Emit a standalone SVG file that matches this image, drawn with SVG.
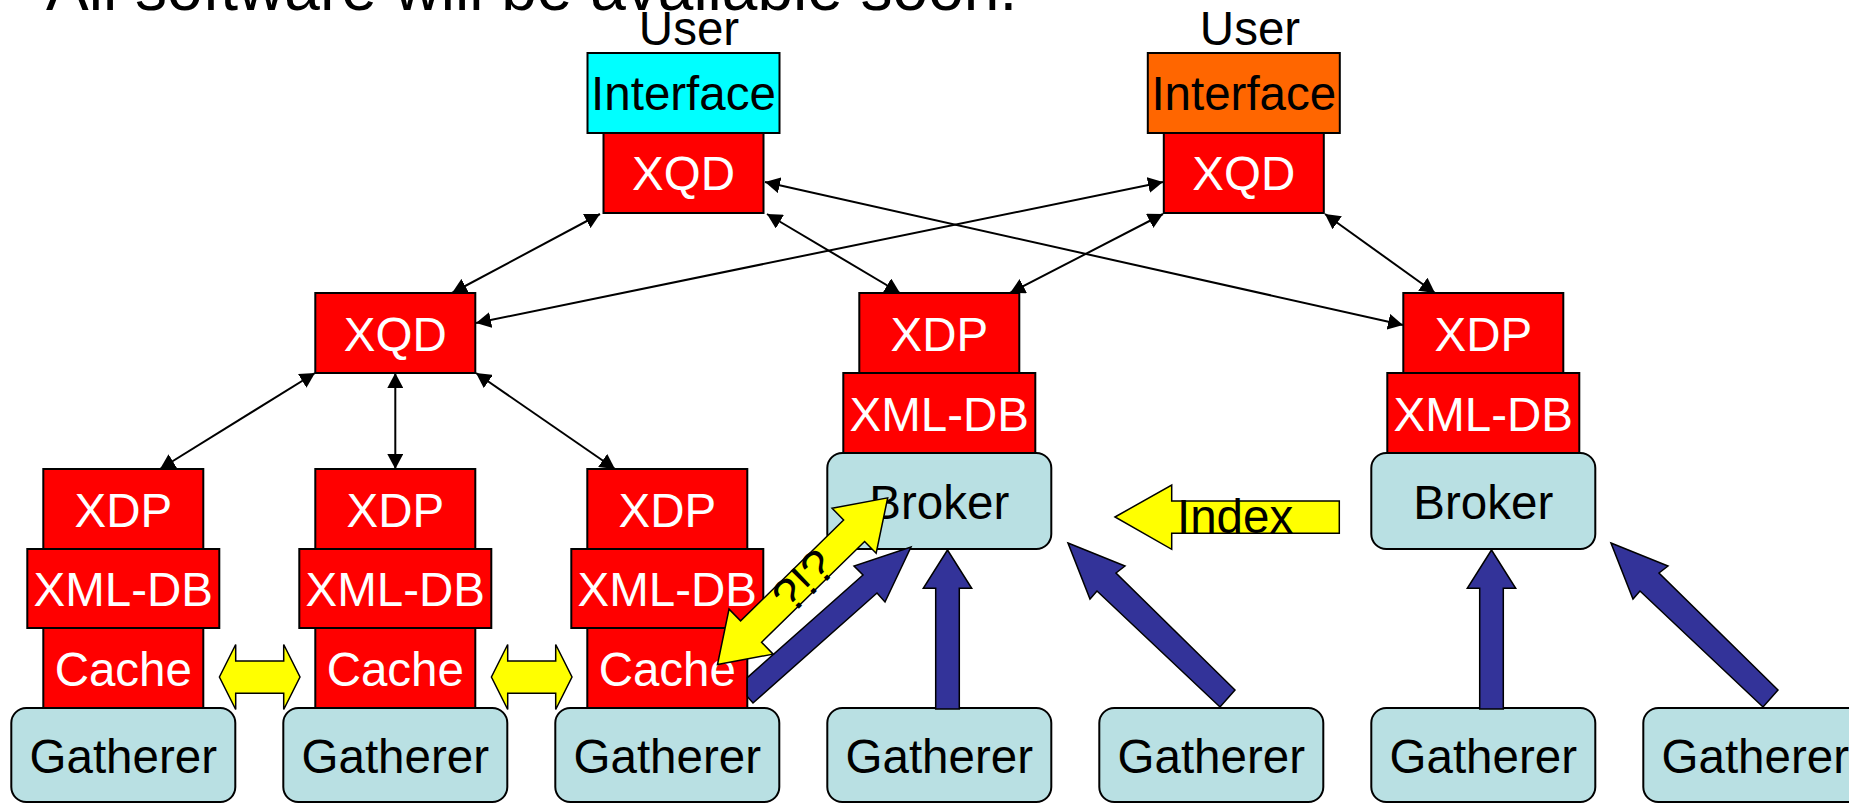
<svg xmlns="http://www.w3.org/2000/svg" width="1849" height="803" viewBox="0 0 1849 803">
  <defs>
    <style>
      text { font-family: "Liberation Sans", Arial, sans-serif; font-size: 47.5px; }
      .title { font-size: 64px; fill: #000; }
      .red { fill: #FF0000; stroke: #000; stroke-width: 2; }
      .soft { fill: #B9E0E3; stroke: #000; stroke-width: 2; }
      .w { fill: #FFFFFF; text-anchor: middle; }
      .k { fill: #000000; text-anchor: middle; }
      .link { stroke: #000; stroke-width: 2; fill: none; marker-start: url(#tip); marker-end: url(#tip); }
      .blue { fill: #333399; stroke: #000; stroke-width: 1.5; }
      .yel { fill: #FFFF00; stroke: #000; stroke-width: 1.5; }
    </style>
    <marker id="tip" viewBox="0 0 15 16" refX="15" refY="8" markerWidth="15" markerHeight="16" markerUnits="userSpaceOnUse" orient="auto-start-reverse">
      <path d="M0,0 L15,8 L0,16 z" fill="#000"/>
    </marker>
  </defs>

  <rect width="1849" height="803" fill="#FFFFFF"/>

  <text id="title" class="title" x="46" y="9.5">All software will be available soon.</text>

  <!-- user front ends -->
  <g id="user1">
    <text class="k" x="689" y="44.5">User</text>
    <rect x="587.5" y="53" width="192" height="80" fill="#00FFFF" stroke="#000" stroke-width="2"/>
    <text class="k" x="683.5" y="110">Interface</text>
  </g>
  <g id="xqd-top1">
    <rect class="red" x="603.5" y="133" width="160" height="80"/>
    <text class="w" x="683.5" y="190">XQD</text>
  </g>
  <g id="user2">
    <text class="k" x="1250" y="44.5">User</text>
    <rect x="1147.8" y="53" width="192" height="80" fill="#FF6600" stroke="#000" stroke-width="2"/>
    <text class="k" x="1243.8" y="110">Interface</text>
  </g>
  <g id="xqd-top2">
    <rect class="red" x="1163.8" y="133" width="160" height="80"/>
    <text class="w" x="1243.8" y="190">XQD</text>
  </g>

  <!-- intermediate query node -->
  <g id="xqd-mid">
    <rect class="red" x="315.3" y="293" width="160" height="80"/>
    <text class="w" x="395.3" y="350.5">XQD</text>
  </g>

  <!-- cache stacks -->
  <g id="xdp1"><rect class="red" x="43.3" y="469" width="160" height="80"/><text class="w" x="123.3" y="526.5">XDP</text></g>
  <g id="xmldb1"><rect class="red" x="27.3" y="549" width="192" height="79"/><text class="w" x="123.3" y="606">XML-DB</text></g>
  <g id="cache1"><rect class="red" x="43.3" y="628" width="160" height="80"/><text class="w" x="123.3" y="685.5">Cache</text></g>
  <g id="gatherer1"><rect class="soft" x="11.3" y="708" width="224" height="94" rx="15"/><text class="k" x="123.3" y="773">Gatherer</text></g>

  <g id="xdp2"><rect class="red" x="315.3" y="469" width="160" height="80"/><text class="w" x="395.3" y="526.5">XDP</text></g>
  <g id="xmldb2"><rect class="red" x="299.3" y="549" width="192" height="79"/><text class="w" x="395.3" y="606">XML-DB</text></g>
  <g id="cache2"><rect class="red" x="315.3" y="628" width="160" height="80"/><text class="w" x="395.3" y="685.5">Cache</text></g>
  <g id="gatherer2"><rect class="soft" x="283.3" y="708" width="224" height="94" rx="15"/><text class="k" x="395.3" y="773">Gatherer</text></g>

  <g id="xdp3"><rect class="red" x="587.3" y="469" width="160" height="80"/><text class="w" x="667.3" y="526.5">XDP</text></g>
  <g id="xmldb3"><rect class="red" x="571.3" y="549" width="192" height="79"/><text class="w" x="667.3" y="606">XML-DB</text></g>
  <g id="cache3"><rect class="red" x="587.3" y="628" width="160" height="80"/><text class="w" x="667.3" y="685.5">Cache</text></g>
  <g id="gatherer3"><rect class="soft" x="555.3" y="708" width="224" height="94" rx="15"/><text class="k" x="667.3" y="773">Gatherer</text></g>

  <!-- broker stacks -->
  <g id="xdp4"><rect class="red" x="859.3" y="293" width="160" height="80"/><text class="w" x="939.3" y="350.5">XDP</text></g>
  <g id="xmldb4"><rect class="red" x="843.3" y="373" width="192" height="80"/><text class="w" x="939.3" y="430.5">XML-DB</text></g>
  <g id="broker1"><rect class="soft" x="827.3" y="453" width="224" height="96" rx="15"/><text class="k" x="939.3" y="518.5">Broker</text></g>

  <g id="xdp5"><rect class="red" x="1403.3" y="293" width="160" height="80"/><text class="w" x="1483.3" y="350.5">XDP</text></g>
  <g id="xmldb5"><rect class="red" x="1387.3" y="373" width="192" height="80"/><text class="w" x="1483.3" y="430.5">XML-DB</text></g>
  <g id="broker2"><rect class="soft" x="1371.3" y="453" width="224" height="96" rx="15"/><text class="k" x="1483.3" y="518.5">Broker</text></g>

  <g id="gatherer4"><rect class="soft" x="827.3" y="708" width="224" height="94" rx="15"/><text class="k" x="939.3" y="773">Gatherer</text></g>
  <g id="gatherer5"><rect class="soft" x="1099.3" y="708" width="224" height="94" rx="15"/><text class="k" x="1211.3" y="773">Gatherer</text></g>
  <g id="gatherer6"><rect class="soft" x="1371.3" y="708" width="224" height="94" rx="15"/><text class="k" x="1483.3" y="773">Gatherer</text></g>
  <g id="gatherer7"><rect class="soft" x="1643.3" y="708" width="224" height="94" rx="15"/><text class="k" x="1755.3" y="773">Gatherer</text></g>

  <g id="connectors">
    <!-- query links -->
    <line class="link" x1="600" y1="214" x2="452" y2="293"/>
    <line class="link" x1="767" y1="214" x2="900" y2="293"/>
    <line class="link" x1="765" y1="182" x2="1403" y2="325"/>
    <line class="link" x1="1163" y1="182" x2="476" y2="323"/>
    <line class="link" x1="1163" y1="214" x2="1010" y2="293"/>
    <line class="link" x1="1325" y1="214" x2="1435" y2="293"/>
    <line class="link" x1="315" y1="373" x2="160" y2="469"/>
    <line class="link" x1="395.3" y1="373" x2="395.3" y2="469"/>
    <line class="link" x1="476" y1="373" x2="615" y2="469"/>

    <!-- gatherer feeds into brokers -->
    <polygon class="blue" points="747.3,696.5 753,703 877,593 885,602 911,547 854,566 863,575 747.3,677.6"/>
    <polygon class="blue" points="935.7,709 935.7,588.3 923.3,588.3 947.5,550 971.7,588.3 959.3,588.3 959.3,709"/>
    <polygon class="blue" points="1068,543 1125,566 1116,573 1235,690 1220,707 1097,591 1090,599"/>
    <polygon class="blue" points="1479.7,709 1479.7,588.3 1467.3,588.3 1491.5,550 1515.7,588.3 1503.3,588.3 1503.3,709"/>
    <polygon class="blue" points="1611,543 1668,566 1659,573 1778,690 1763,707 1640,591 1633,599"/>

    <!-- cache exchange -->
    <polygon class="yel" points="219.4,677 235.7,644.5 235.7,661 283.7,661 283.7,644.5 300,677 283.7,709.5 283.7,693.3 235.7,693.3 235.7,709.5"/>
    <polygon class="yel" points="491.4,677 507.7,644.5 507.7,661 555.7,661 555.7,644.5 572,677 555.7,709.5 555.7,693.3 507.7,693.3 507.7,709.5"/>

    <!-- index transfer between brokers -->
    <polygon class="yel" points="1115,517 1171.7,485 1171.7,501 1339.3,501 1339.3,533.3 1171.7,533.3 1171.7,549.3"/>
    <text x="1177" y="533" fill="#000">Index</text>

    <!-- open question: cache to broker -->
    <g transform="translate(717.5,664.5) rotate(-44.4)">
      <polygon class="yel" points="0,0 47,-31.5 47,-15 191.2,-15 191.2,-31.5 238.2,0 191.2,31.5 191.2,15 47,15 47,31.5"/>
      <text class="k" x="120" y="17">?!?</text>
    </g>
  </g>
</svg>
